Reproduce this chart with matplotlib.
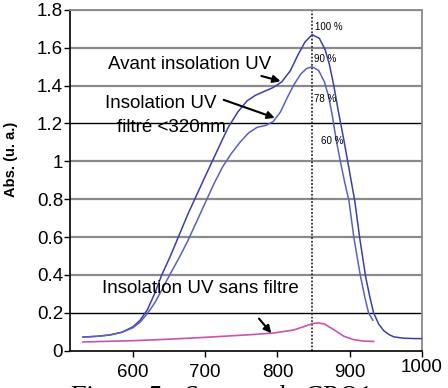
import matplotlib
matplotlib.use("Agg")
import matplotlib.pyplot as plt
from matplotlib.transforms import ScaledTranslation

# absorbance spectra
wl_avant = [531, 550, 568, 585, 600, 610, 620, 630, 640, 652, 664, 676, 688, 700,
            711, 722, 732, 745, 758, 770, 782, 794, 806, 818, 828, 838, 848, 858,
            866, 872, 878, 884, 892, 900, 907, 914, 922, 928, 933, 940, 947, 954,
            961, 975, 990, 1000]
abs_avant = [0.071, 0.075, 0.082, 0.097, 0.125, 0.16, 0.215, 0.30, 0.40, 0.50, 0.61,
             0.72, 0.82, 0.92, 1.01, 1.10, 1.18, 1.26, 1.32, 1.35, 1.37, 1.39, 1.42,
             1.48, 1.56, 1.63, 1.67, 1.65, 1.59, 1.51, 1.40, 1.27, 1.11, 0.94, 0.79,
             0.59, 0.39, 0.28, 0.20, 0.14, 0.105, 0.085, 0.072, 0.065, 0.063, 0.063]

wl_filtre = [531, 550, 568, 585, 600, 610, 620, 630, 640, 651, 664, 676, 688, 700,
             712, 724, 736, 748, 760, 772, 784, 794, 804, 814, 822, 832, 840, 848,
             857, 865, 871, 876, 881, 887, 893, 899, 906, 915, 921, 926, 932]
abs_filtre = [0.071, 0.075, 0.082, 0.096, 0.12, 0.15, 0.195, 0.25, 0.32, 0.40, 0.49,
              0.58, 0.68, 0.78, 0.88, 0.97, 1.04, 1.10, 1.15, 1.18, 1.19, 1.21, 1.26,
              1.34, 1.40, 1.46, 1.49, 1.50, 1.48, 1.42, 1.34, 1.24, 1.12, 1.00, 0.89,
              0.79, 0.59, 0.39, 0.28, 0.20, 0.16]

wl_sans = [531, 560, 600, 640, 683, 720, 760, 794, 822, 838, 848, 856, 865, 878,
           892, 905, 918, 933]
abs_sans = [0.045, 0.048, 0.052, 0.058, 0.066, 0.074, 0.083, 0.092, 0.108, 0.128,
            0.142, 0.146, 0.14, 0.11, 0.075, 0.058, 0.05, 0.048]

y_ticks = [0, 0.2, 0.4, 0.6, 0.8, 1.0, 1.2, 1.4, 1.6, 1.8]
y_labels = ["0", "0.2", "0.4", "0.6", "0.8", "1", "1.2", "1.4", "1.6", "1.8"]
x_ticks = [600, 700, 800, 900, 1000]

peak_wl = 848
pct_labels = [("100 %", 852, 1.71), ("90 %", 851, 1.54), ("78 %", 851, 1.33), ("60 %", 860, 1.11)]

plt.rcParams["font.family"] = ["Liberation Sans", "DejaVu Sans"]

fig = plt.figure(figsize=(4.48, 3.88), dpi=100)
ax = fig.add_axes([70 / 448, (388 - 350.5) / 388, 352 / 448, 340.5 / 388])

for y in y_ticks[1:]:
    dark = y in (0.2, 1.2)
    ax.axhline(y, color="black" if dark else "#8a8a8a", lw=1.0 if dark else 1.6, zorder=1)

ax.plot(wl_avant, abs_avant, color="#3a40a8", lw=1.1, zorder=3)
ax.plot(wl_filtre, abs_filtre, color="#5a62c0", lw=1.1, zorder=3)
ax.plot(wl_sans, abs_sans, color="#c853b0", lw=1.2, zorder=3)
ax.axvline(peak_wl, color="#333333", lw=1.3, ls=(0, (1, 1)), zorder=2)

ax.set_xlim(513, 1000)
ax.set_ylim(0, 1.8)
ax.set_xticks(x_ticks)
ax.set_yticks(y_ticks)
ax.set_yticklabels(y_labels)
ax.tick_params(labelsize=13.5, length=4, width=1, direction="out")
ax.tick_params(axis="x", pad=12)
ax.tick_params(axis="y", pad=1)
ax.set_ylabel("Abs. (u. a.)", fontsize=10.5, fontweight="bold")
ax.yaxis.set_label_coords(-0.148, 0.56)

for side in ("top", "right"):
    ax.spines[side].set_color("#8a8a8a")
    ax.spines[side].set_linewidth(1.3)
for side in ("left", "bottom"):
    ax.spines[side].set_linewidth(1.2)

# x labels sit closer to the axis, "1000" a bit higher still
for i, lbl in enumerate(ax.get_xticklabels()):
    dy = 14 if i == len(x_ticks) - 1 else 9
    lbl.set_transform(lbl.get_transform() + ScaledTranslation(0, dy / 100, fig.dpi_scale_trans))

for txt, x, y in pct_labels:
    ax.text(x, y, txt, fontsize=7, va="center", ha="left", zorder=4)

arrow = dict(arrowstyle="-|>", color="black", lw=1.5, mutation_scale=11)
ax.annotate("", xy=(808, 1.42), xytext=(774, 1.455), arrowprops=arrow, zorder=5)
ax.annotate("", xy=(800, 1.225), xytext=(722, 1.33), arrowprops=arrow, zorder=5)
ax.annotate("", xy=(794, 0.08), xytext=(772, 0.18), arrowprops=arrow, zorder=5)

ax.text(565, 1.51, "Avant insolation UV", fontsize=13.5, va="center", zorder=4)
ax.text(561, 1.305, "Insolation UV", fontsize=13.5, va="center", zorder=4)
ax.text(578, 1.18, "filtré <320nm", fontsize=13.5, va="center", zorder=4)
ax.text(557, 0.33, "Insolation UV sans filtre", fontsize=13.5, va="center", zorder=4)

fig.text(68 / 448, -0.04, "Figure 5 : Spectre de CPO1", fontsize=19.5, style="italic",
         family=["Liberation Serif", "DejaVu Serif"], va="baseline")

fig.savefig("out.png", dpi=100)
